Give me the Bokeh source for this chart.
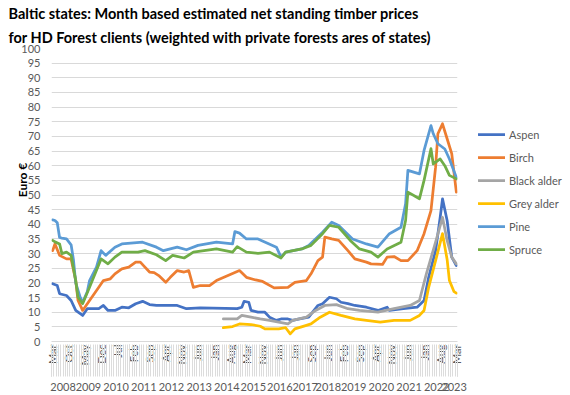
import math
from bokeh.plotting import figure
from bokeh.models import (Range1d, FixedTicker, LinearAxis, Legend, LegendItem, Grid, Title, Label)
from bokeh.embed import file_html
from bokeh.resources import INLINE

# ---------------- data ----------------
MONTH_ABBR = ["Jan", "Feb", "Mar", "Apr", "May", "Jun", "Jul", "Aug", "Sep", "Oct", "Nov", "Dec"]
first_month = (2008, 3)
last_month = (2023, 3)
missing_months = [(2015, 7), (2017, 5), (2017, 12), (2018, 3), (2018, 10)]
label_every = 7

aspen_idx = [0, 2, 3, 6, 8, 10, 13, 15, 20, 22, 24, 27, 30, 33, 36, 39, 42, 45, 54, 58,
             64, 80, 82, 83, 85, 86, 89, 92, 94, 97, 99, 102, 104, 107, 111, 115, 117, 120, 123, 125,
             128, 131, 136, 141, 145, 146, 152, 158, 161, 163, 166, 168, 169, 171, 173, 175]
aspen_val = [19.7, 19.1, 16.3, 15.7, 14, 10.6, 8.9, 11.2, 11.2, 12.3, 10.6, 10.6, 11.7, 11.5, 12.9, 13.7, 12.6, 12.3, 12.3, 11.2,
             11.5, 11.2, 11.7, 13.7, 13.4, 10.6, 10, 10, 8.3, 7.2, 7.7, 7.7, 7.2, 7.7, 8.3, 12.3, 12.9, 15.1, 14.6, 13.4,
             12.9, 12.3, 11.7, 10.6, 11.7, 10.6, 11.2, 11.7, 14, 21.9, 31, 42.4, 48.7, 41.3, 28.8, 25.9]

birch_idx = [0, 1, 3, 6, 8, 10, 11, 13, 16, 20, 22, 25, 27, 30, 33, 36, 38, 40, 42, 44,
             46, 49, 51, 54, 57, 59, 61, 64, 68, 71, 76, 81, 84, 88, 91, 96, 102, 105, 110, 112,
             115, 117, 118, 121, 124, 128, 131, 136, 138, 143, 145, 148, 151, 154, 158, 161, 164, 166, 167, 169,
             171, 173, 175]
birch_val = [31, 33.3, 29.4, 28.2, 28.2, 20.8, 14, 10.6, 14, 18.5, 20.8, 21.4, 23.1, 24.8, 25.4, 27.1, 27.1, 25.4, 23.7, 23.5,
             22.5, 20.2, 21.9, 24.2, 23.7, 24.2, 18.5, 19.1, 19.1, 20.8, 22.5, 24.2, 21.9, 21, 20.5, 18.3, 18.5, 20.2, 20.8, 23.1,
             27.6, 28.8, 35.6, 35, 34.5, 31, 28.2, 27.1, 26.5, 26.3, 28.8, 29, 27.6, 27.6, 31, 36.8, 44.7, 59.5, 70.9, 74.3,
             69.2, 64.1, 51]

black_alder_idx = [74, 80, 82, 86, 90, 94, 98, 102, 104, 110, 114, 118, 123, 128, 133, 141, 148, 155, 159, 162,
                   166, 169, 171, 173, 175]
black_alder_val = [7.7, 7.7, 8.9, 8.3, 7.7, 7.2, 6.6, 6, 7.2, 8.3, 10.6, 12.3, 12.6, 11.2, 10.6, 10, 11.2, 12.3, 14, 23.1,
                   33.9, 42.4, 34.5, 28.8, 26.5]

grey_alder_idx = [74, 78, 81, 86, 90, 92, 98, 101, 103, 105, 110, 112, 116, 120, 125, 131, 136, 142, 148, 155,
                  159, 161, 163, 166, 169, 171, 172, 174, 175]
grey_alder_val = [4.7, 5.1, 6, 5.8, 5.2, 4.3, 4.3, 4.7, 2.6, 4.3, 5.5, 6, 8.3, 10, 8.9, 7.7, 7.2, 6.6, 7.2, 7.2,
                  8.9, 10.6, 18.5, 27.6, 36.8, 28, 20.8, 17, 16.5]

pine_idx = [0, 1, 2, 3, 4, 6, 7, 8, 9, 10, 12, 13, 15, 16, 19, 21, 23, 27, 30, 39,
            45, 48, 54, 58, 63, 71, 78, 79, 81, 84, 89, 97, 99, 101, 108, 111, 117, 121, 124, 130,
            136, 141, 146, 151, 153, 154, 159, 161, 164, 165, 167, 170, 172, 175]
pine_val = [41.5, 41.3, 40.5, 35.5, 35.3, 35, 34, 33, 28, 20, 15, 13.4, 17, 20.8, 25.4, 31, 29.4, 32.2, 33.3, 33.9,
            32.2, 31, 32.2, 31.3, 32.8, 33.9, 33.3, 37.5, 37, 35, 35, 32.2, 28.8, 30.5, 31.6, 32.8, 37.3, 40.7, 39.6, 35,
            33.3, 32.2, 36.8, 39, 47, 58.4, 57.2, 65.2, 73.7, 70.9, 67.5, 65.7, 62.3, 56]

spruce_idx = [0, 1, 3, 4, 6, 8, 10, 11, 13, 16, 21, 24, 27, 30, 37, 40, 45, 49, 52, 57,
              61, 71, 78, 80, 84, 89, 94, 99, 101, 108, 112, 117, 120, 124, 129, 133, 138, 141, 145, 151,
              153, 154, 159, 161, 164, 165, 168, 170, 172, 175]
spruce_val = [34.5, 34, 33.3, 30, 30.5, 29.4, 20.8, 15.1, 12.9, 18.5, 28.2, 26.5, 28.8, 30.5, 30.5, 31, 29.6, 27.6, 29.4, 28.5,
              30.5, 31.6, 30.5, 32.4, 30.5, 30.1, 30.5, 28.5, 30.5, 31.6, 32.8, 36.8, 39.6, 39, 34.5, 31.6, 30.5, 28.8, 31.6, 33.9,
              41.3, 51, 48.7, 55, 65.8, 60.6, 62.3, 60, 56.7, 55.5]

series_names = ["Aspen", "Birch", "Black alder", "Grey alder", "Pine", "Spruce"]
series_colors = ["#4472C4", "#ED7D31", "#A5A5A5", "#FFC000", "#5B9BD5", "#70AD47"]
y_ticks = list(range(0, 101, 5))

title_line1 = "Baltic states: Month based estimated net standing timber prices"
title_line2 = "for HD Forest clients (weighted with private forests ares of states)"
y_title = "Euro €"
y_title_at = 61
logo_swoosh = "—"
logo_green = "HD"
logo_gray = "Forest"

# ---------------- categories ----------------
categories = []
yy, mm = first_month
while (yy, mm) <= last_month:
    if (yy, mm) not in missing_months:
        categories.append((yy, mm))
    mm += 1
    if mm > 12:
        mm = 1
        yy += 1
n = len(categories)

month_ticks = list(range(0, n, label_every))
month_labels = {i: MONTH_ABBR[categories[i][1] - 1] for i in month_ticks}
years = sorted(set(c[0] for c in categories))
year_centers = []
year_bounds = [-0.5]
for yv in years:
    ids = [i for i, c in enumerate(categories) if c[0] == yv]
    year_centers.append((ids[0] + ids[-1]) / 2)
    year_bounds.append(ids[-1] + 0.5)
year_labels = {yc: str(yv) for yc, yv in zip(year_centers, years)}

FONT = "Lato"
GRAY = "#595959"
GREEN = "#2EA350"
LEFT, FW, RIGHT, TOP, FH = 51, 406, 110, 48, 293
FRAME_R = LEFT + FW
RP_BOTTOM = TOP + FH
LEG_GLYPH, LEG_STANDOFF, LEG_LABEL_W = 27, 4, 60

p = figure(frame_width=FW, frame_height=FH,
           x_range=Range1d(-0.5, n - 0.5), y_range=Range1d(0, 100),
           x_axis_type=None, y_axis_type=None,
           output_backend="svg", toolbar_location=None,
           min_border_left=LEFT, min_border_top=TOP, min_border_right=RIGHT, min_border_bottom=0)
p.outline_line_color = None

# title (two lines), closest to the frame first
p.add_layout(Title(text=title_line2, align="left", offset=8 - LEFT, standoff=5,
                   text_font=FONT, text_font_size="14.5px", text_font_style="bold", text_color="black"), "above")
p.add_layout(Title(text=title_line1, align="left", offset=8 - LEFT, standoff=5,
                   text_font=FONT, text_font_size="14.5px", text_font_style="bold", text_color="black"), "above")

yaxis = LinearAxis(ticker=FixedTicker(ticks=y_ticks, minor_ticks=[]))
yaxis.axis_line_color = None
yaxis.major_tick_line_color = None
yaxis.minor_tick_line_color = None
yaxis.major_tick_out = 0
yaxis.major_tick_in = 0
yaxis.minor_tick_out = 0
yaxis.minor_tick_in = 0
yaxis.major_label_standoff = 11
yaxis.major_label_text_font = FONT
yaxis.major_label_text_font_size = "11px"
yaxis.major_label_text_color = GRAY
p.add_layout(yaxis, "left")
p.add_layout(Grid(dimension=1, ticker=yaxis.ticker, grid_line_color="#d9d9d9", grid_line_width=1))

ytitle_axis = LinearAxis(ticker=FixedTicker(ticks=[y_title_at], minor_ticks=[]))
ytitle_axis.major_label_overrides = {y_title_at: y_title}
ytitle_axis.major_label_orientation = math.pi / 2
ytitle_axis.axis_line_color = None
ytitle_axis.major_tick_line_color = None
ytitle_axis.minor_tick_line_color = None
ytitle_axis.major_tick_out = 0
ytitle_axis.major_tick_in = 0
ytitle_axis.minor_tick_out = 0
ytitle_axis.minor_tick_in = 0
ytitle_axis.major_label_standoff = -4
ytitle_axis.major_label_text_font = FONT
ytitle_axis.major_label_text_font_size = "12px"
ytitle_axis.major_label_text_font_style = "bold"
ytitle_axis.major_label_text_color = "black"
p.add_layout(ytitle_axis, "left")

# month labels
xaxis = LinearAxis(ticker=FixedTicker(ticks=month_ticks, minor_ticks=[]))
xaxis.major_label_overrides = month_labels
xaxis.major_label_orientation = math.pi / 2
xaxis.major_tick_out = 0
xaxis.major_tick_in = 0
xaxis.minor_tick_out = 0
xaxis.minor_tick_in = 0
xaxis.major_tick_line_color = None
xaxis.minor_tick_line_color = None
xaxis.axis_line_color = "#d9d9d9"
xaxis.major_label_standoff = 3
xaxis.major_label_text_font = FONT
xaxis.major_label_text_font_size = "11px"
xaxis.major_label_text_color = GRAY
p.add_layout(xaxis, "below")

# category tick hatch + year separators
hatch = LinearAxis(ticker=FixedTicker(ticks=year_bounds, minor_ticks=[i - 0.5 for i in range(n + 1)]))
hatch.major_label_overrides = {b: "" for b in year_bounds}
hatch.major_label_text_font_size = "1px"
hatch.major_label_standoff = 0
hatch.axis_line_color = None
hatch.major_tick_in = 24
hatch.major_tick_out = 8
hatch.major_tick_line_color = "#c8c8c8"
hatch.minor_tick_in = 24
hatch.minor_tick_out = 8
hatch.minor_tick_line_color = "#dcdcdc"
p.add_layout(hatch, "below")

# years
yearaxis = LinearAxis(ticker=FixedTicker(ticks=year_centers, minor_ticks=[]))
yearaxis.major_label_overrides = year_labels
yearaxis.axis_line_color = None
yearaxis.major_tick_line_color = None
yearaxis.minor_tick_line_color = None
yearaxis.major_tick_out = 0
yearaxis.major_tick_in = 0
yearaxis.minor_tick_out = 0
yearaxis.minor_tick_in = 0
yearaxis.major_label_standoff = 6
yearaxis.major_label_text_font = FONT
yearaxis.major_label_text_font_size = "11px"
yearaxis.major_label_text_color = GRAY
p.add_layout(yearaxis, "below")

all_idx = [aspen_idx, birch_idx, black_alder_idx, grey_alder_idx, pine_idx, spruce_idx]
all_val = [aspen_val, birch_val, black_alder_val, grey_alder_val, pine_val, spruce_val]
items = []
for name, col, xs, ys in zip(series_names, series_colors, all_idx, all_val):
    r = p.line(xs, ys, line_color=col, line_width=2.75, line_join="round", line_cap="round")
    items.append(LegendItem(label=name, renderers=[r]))

# legend: first slot of the right-hand panel, next to the frame
legend = Legend(items=items, location=(21, 82), border_line_color=None, background_fill_alpha=0,
                label_text_font=FONT, label_text_font_size="11px", label_text_color=GRAY,
                glyph_width=LEG_GLYPH, glyph_height=20, label_height=20, label_width=LEG_LABEL_W, spacing=3,
                label_standoff=LEG_STANDOFF, padding=0, margin=0)
p.add_layout(legend, "right")

# logo (top right): labels in the following slots of the right-hand panel
# (slot widths measured: swoosh 12 px, "HD" 21 px, "Forest" 45 px)
logo_specs = [(logo_swoosh, 430, 12, GREEN, "bold"), (logo_green, 446, 21, GREEN, "bold italic"),
              (logo_gray, 472, 45, "#6B6B6B", "bold")]
slot_left = FRAME_R + LEG_GLYPH + LEG_STANDOFF + LEG_LABEL_W
for txt, lx, w, col, style in logo_specs:
    p.add_layout(Label(text=txt, x=lx - slot_left, y=RP_BOTTOM - 20, x_units="screen", y_units="screen",
                       text_font=FONT, text_font_size="15px", text_font_style=style, text_color=col,
                       text_baseline="alphabetic"), "right")
    slot_left += w

open("out.html", "w").write(file_html(p, INLINE))
